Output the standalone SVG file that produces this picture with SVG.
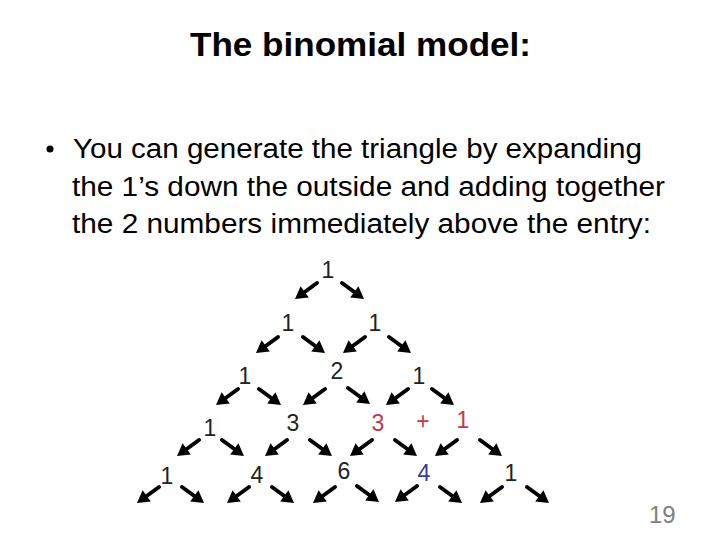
<svg xmlns="http://www.w3.org/2000/svg" xmlns:xlink="http://www.w3.org/1999/xlink" width="720" height="540" viewBox="0 0 720 540">
<style>
.title{font-family:"Liberation Sans",Arial,sans-serif;font-weight:bold;font-size:34px;fill:#000}
.body{font-family:"Liberation Sans",Arial,sans-serif;font-size:27px;fill:#000}
.num{font-family:"Liberation Sans",Arial,sans-serif;font-size:23px;fill:#222;text-anchor:middle}
.red{fill:#c8344a}
.blue{fill:#3a3a9a}
.page{font-family:"Liberation Sans",Arial,sans-serif;font-size:24px;fill:#808080}
</style>
<defs>
<g id="ar">
<path d="M0,0 L13,9.5" stroke="#000" stroke-width="4" stroke-linecap="round" fill="none"/>
<polygon points="22,16 8.2,14.6 16.4,3.3" fill="#000"/>
</g>
<g id="al"><use xlink:href="#ar" transform="scale(-1,1)"/></g>
</defs>
<rect width="720" height="540" fill="#fff"/>
<text class="title" x="190" y="56" textLength="341" lengthAdjust="spacingAndGlyphs">The binomial model:</text>
<circle cx="50" cy="149" r="3.5" fill="#000"/>
<text class="body" x="73" y="158" textLength="569" lengthAdjust="spacingAndGlyphs">You can generate the triangle by  expanding</text>
<text class="body" x="72" y="195.5" textLength="593" lengthAdjust="spacingAndGlyphs">the 1’s down the outside and adding together</text>
<text class="body" x="72" y="233" textLength="579" lengthAdjust="spacingAndGlyphs">the 2 numbers immediately above the entry:</text>
<g id="nodes">
<g id="n00"><text class="num" x="328" y="278">1</text></g>
<g id="n10"><text class="num" x="288" y="331">1</text></g>
<g id="n11"><text class="num" x="375" y="331">1</text></g>
<g id="n20"><text class="num" x="245" y="384">1</text></g>
<g id="n21"><text class="num" x="337" y="379">2</text></g>
<g id="n22"><text class="num" x="419" y="384">1</text></g>
<g id="n30"><text class="num" x="210" y="436">1</text></g>
<g id="n31"><text class="num" x="293" y="431">3</text></g>
<g id="n32"><text class="num red" x="378" y="431">3</text></g>
<g id="plus"><text class="num red" x="423" y="429">+</text></g>
<g id="n33"><text class="num red" x="463" y="428">1</text></g>
<g id="n40"><text class="num" x="167" y="484">1</text></g>
<g id="n41"><text class="num" x="257" y="483">4</text></g>
<g id="n42"><text class="num" x="344" y="479">6</text></g>
<g id="n43"><text class="num blue" x="424" y="481">4</text></g>
<g id="n44"><text class="num" x="511" y="481">1</text></g>
</g>
<g id="connectors">
<use xlink:href="#ar" x="342" y="283"/>
<use xlink:href="#al" x="317" y="283"/>
<use xlink:href="#ar" x="303" y="337"/>
<use xlink:href="#ar" x="389" y="337"/>
<use xlink:href="#al" x="278" y="337"/>
<use xlink:href="#al" x="365" y="337"/>
<use xlink:href="#ar" x="259" y="389"/>
<use xlink:href="#ar" x="348" y="388"/>
<use xlink:href="#ar" x="432" y="389"/>
<use xlink:href="#al" x="238" y="389"/>
<use xlink:href="#al" x="325" y="389"/>
<use xlink:href="#al" x="408" y="389"/>
<use xlink:href="#ar" x="222" y="440"/>
<use xlink:href="#ar" x="310" y="440"/>
<use xlink:href="#ar" x="395" y="440"/>
<use xlink:href="#ar" x="480" y="440"/>
<use xlink:href="#al" x="199" y="440"/>
<use xlink:href="#al" x="287" y="440"/>
<use xlink:href="#al" x="372" y="440"/>
<use xlink:href="#al" x="457" y="440"/>
<use xlink:href="#ar" x="182" y="487"/>
<use xlink:href="#ar" x="272" y="487"/>
<use xlink:href="#ar" x="357" y="486"/>
<use xlink:href="#ar" x="440" y="487"/>
<use xlink:href="#ar" x="527" y="487"/>
<use xlink:href="#al" x="159" y="487"/>
<use xlink:href="#al" x="249" y="487"/>
<use xlink:href="#al" x="335" y="487"/>
<use xlink:href="#al" x="417" y="486"/>
<use xlink:href="#al" x="502" y="487"/>
</g>
<text class="page" x="649" y="523">19</text>
</svg>
